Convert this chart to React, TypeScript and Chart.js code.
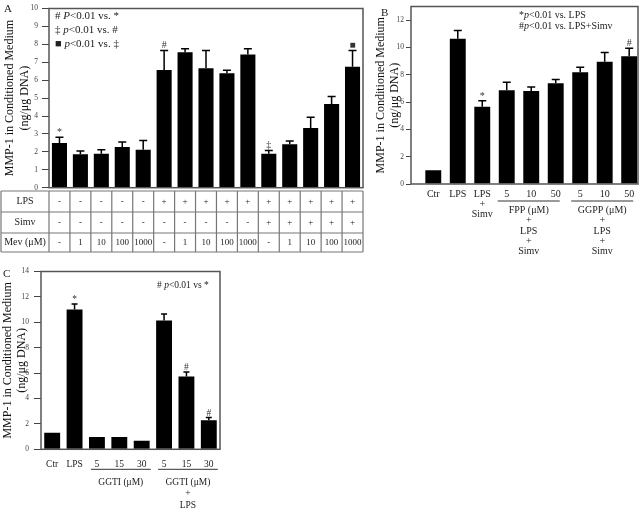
import React, { useEffect, useRef } from "react";
import { Chart, registerables } from "chart.js";

Chart.register(...registerables);

const SERIF = "'Liberation Serif', 'Times New Roman', Times, serif";
const fnt = (size: number, style = "normal") => `${style} ${size}px ${SERIF}`;

// ---------------- Panel A data ----------------
const categoriesA = ["1", "2", "3", "4", "5", "6", "7", "8", "9", "10", "11", "12", "13", "14", "15"];
const valuesA = [2.5, 1.86, 1.9, 2.27, 2.12, 6.57, 7.56, 6.66, 6.38, 7.44, 1.9, 2.42, 3.33, 4.67, 6.75];
const errorsA = [0.32, 0.19, 0.22, 0.28, 0.52, 1.09, 0.19, 1.0, 0.17, 0.31, 0.18, 0.18, 0.6, 0.42, 0.91];
const marksA = ["*", "", "", "", "", "#", "", "", "", "", "‡", "", "", "", "■"];
const tableLabelsA = ["LPS", "Simv", "Mev (μM)"];
const lpsRowA = ["-", "-", "-", "-", "-", "+", "+", "+", "+", "+", "+", "+", "+", "+", "+"];
const simvRowA = ["-", "-", "-", "-", "-", "-", "-", "-", "-", "-", "+", "+", "+", "+", "+"];
const mevRowA = ["-", "1", "10", "100", "1000", "-", "1", "10", "100", "1000", "-", "1", "10", "100", "1000"];
const legendA: [string, boolean][][] = [
  [["# ", false], ["P", true], ["<0.01 vs. *", false]],
  [["‡ ", false], ["p", true], ["<0.01 vs. #", false]],
  [["■ ", false], ["p", true], ["<0.01 vs. ‡", false]],
];

// ---------------- Panel B data ----------------
const categoriesB: (string | string[])[] = ["Ctr", "LPS", ["LPS", "+", "Simv"], "5", "10", "50", "5", "10", "50"];
const valuesB = [1.0, 10.63, 5.65, 6.86, 6.81, 7.37, 8.19, 8.96, 9.35];
const errorsB = [0, 0.62, 0.45, 0.6, 0.29, 0.29, 0.36, 0.68, 0.6];
const marksB = ["", "", "*", "", "", "", "", "", "#"];
const groupsB = [
  { from: 3, to: 5, lines: ["FPP (μM)", "+", "LPS", "+", "Simv"] },
  { from: 6, to: 8, lines: ["GGPP (μM)", "+", "LPS", "+", "Simv"] },
];
const legendB: [string, boolean][][] = [
  [["*", false], ["p", true], ["<0.01 vs. LPS", false]],
  [["#", false], ["p", true], ["<0.01 vs. LPS+Simv", false]],
];

// ---------------- Panel C data ----------------
const categoriesC = ["Ctr", "LPS", "5", "15", "30", "5", "15", "30"];
const valuesC = [1.3, 11.0, 0.96, 0.96, 0.67, 10.15, 5.73, 2.29];
const errorsC = [0, 0.45, 0, 0, 0, 0.5, 0.36, 0.21];
const marksC = ["", "*", "", "", "", "", "#", "#"];
const groupsC = [
  { from: 2, to: 4, lines: ["GGTI (μM)"] },
  { from: 5, to: 7, lines: ["GGTI (μM)", "+", "LPS"] },
];
const legendC: [string, boolean][][] = [[["# ", false], ["p", true], ["<0.01 vs *", false]]];

const yTitle = ["MMP-1 in Conditioned Medium", "(ng/μg DNA)"];

// ---------------- helpers ----------------
function drawRich(ctx: CanvasRenderingContext2D, segs: [string, boolean][], x: number, y: number, size: number) {
  let cx = x;
  ctx.textAlign = "left";
  ctx.textBaseline = "middle";
  ctx.fillStyle = "#222";
  for (const [t, it] of segs) {
    ctx.font = fnt(size, it ? "italic" : "normal");
    ctx.fillText(t, cx, y);
    cx += ctx.measureText(t).width;
  }
}

function drawErrors(chart: any, errors: number[], marks: string[], cap: number, markSize: number) {
  const ctx: CanvasRenderingContext2D = chart.ctx;
  const ys = chart.scales.y;
  const meta = chart.getDatasetMeta(0);
  const raw = chart.data.datasets[0].data as any[];
  ctx.save();
  ctx.strokeStyle = "#000";
  ctx.lineWidth = 1.5;
  meta.data.forEach((el: any, i: number) => {
    const v = typeof raw[i] === "number" ? raw[i] : raw[i].y;
    const x = el.x;
    const top = ys.getPixelForValue(v + errors[i]);
    if (errors[i] > 0) {
      ctx.beginPath();
      ctx.moveTo(x, el.y);
      ctx.lineTo(x, top);
      ctx.moveTo(x - cap / 2, top);
      ctx.lineTo(x + cap / 2, top);
      ctx.stroke();
    }
    if (marks[i]) {
      ctx.font = fnt(markSize);
      ctx.fillStyle = "#333";
      ctx.textAlign = "center";
      ctx.textBaseline = "alphabetic";
      ctx.fillText(marks[i], x, top - 2);
    }
  });
  ctx.restore();
}

function drawFrame(chart: any) {
  const ctx: CanvasRenderingContext2D = chart.ctx;
  const ca = chart.chartArea;
  ctx.save();
  ctx.strokeStyle = "#555";
  ctx.lineWidth = 1.5;
  ctx.strokeRect(ca.left, ca.top, ca.right - ca.left, ca.bottom - ca.top);
  ctx.restore();
}

function drawGroups(
  chart: any,
  groups: { from: number; to: number; lines: string[] }[],
  lineY: number,
  textY: number,
  gap: number,
  size: number,
  extL: number,
  extR: number
) {
  const ctx: CanvasRenderingContext2D = chart.ctx;
  const xs = chart.scales.x;
  ctx.save();
  for (const g of groups) {
    const x0 = xs.getPixelForValue(g.from) - extL;
    const x1 = xs.getPixelForValue(g.to) + extR;
    ctx.strokeStyle = "#333";
    ctx.lineWidth = 1;
    ctx.beginPath();
    ctx.moveTo(x0, lineY);
    ctx.lineTo(x1, lineY);
    ctx.stroke();
    ctx.fillStyle = "#222";
    ctx.font = fnt(size);
    ctx.textAlign = "center";
    ctx.textBaseline = "middle";
    g.lines.forEach((t, k) => ctx.fillText(t, (x0 + x1) / 2, textY + k * gap));
  }
  ctx.restore();
}

function yAxis(max: number, step: number, width: number, titlePad: number, tickLen: number, tickPad: number) {
  return {
    min: 0,
    max,
    afterFit: (s: any) => {
      s.width = width;
    },
    afterBuildTicks: (s: any) => {
      s.ticks = s.ticks.filter((t: any) => Math.abs(t.value / step - Math.round(t.value / step)) < 1e-6);
    },
    ticks: { stepSize: step, includeBounds: false, font: { family: SERIF, size: 7.5 }, color: "#444", padding: tickPad },
    grid: { display: true, drawOnChartArea: false, drawTicks: true, tickLength: tickLen, color: "#444", lineWidth: 1 },
    border: { display: false },
    title: {
      display: true,
      text: yTitle,
      color: "#111",
      font: { family: SERIF, size: 12, lineHeight: 1.2 },
      padding: { top: titlePad, bottom: 0 },
    },
  };
}

const baseOpts = {
  animation: false as const,
  responsive: false,
  maintainAspectRatio: false,
  devicePixelRatio: 1,
  events: [] as any[],
};

function makeA(canvas: HTMLCanvasElement) {
  return new Chart(canvas, {
    type: "bar",
    data: {
      labels: categoriesA,
      datasets: [{ data: valuesA, backgroundColor: "#000", borderWidth: 0, barPercentage: 0.72, categoryPercentage: 1 }],
    },
    options: {
      ...baseOpts,
      layout: { padding: { top: 6, right: 2, bottom: 74.3, left: 0 } },
      plugins: { legend: { display: false }, tooltip: { enabled: false } },
      scales: {
        x: { display: false },
        y: yAxis(10, 1, 49, 3, 7, 4) as any,
      },
    },
    plugins: [
      {
        id: "panelA",
        afterDatasetsDraw(chart: any) {
          drawErrors(chart, errorsA, marksA, 8, 10);
        },
        afterDraw(chart: any) {
          drawFrame(chart);
          const ctx: CanvasRenderingContext2D = chart.ctx;
          ctx.save();
          legendA.forEach((segs, k) => drawRich(ctx, segs, 55, 16 + k * 14, 11));
          ctx.font = fnt(11);
          ctx.fillStyle = "#222";
          ctx.textAlign = "left";
          ctx.textBaseline = "middle";
          ctx.fillText("A", 4, 9);
          // table
          const xs = chart.scales.x;
          const ca = chart.chartArea;
          const n = categoriesA.length;
          const bounds: number[] = [ca.left];
          for (let i = 0; i < n - 1; i++) bounds.push((xs.getPixelForValue(i) + xs.getPixelForValue(i + 1)) / 2);
          bounds.push(ca.right);
          const rowsY = [191, 212, 233, 252];
          ctx.strokeStyle = "#777";
          ctx.lineWidth = 1.2;
          ctx.beginPath();
          rowsY.forEach((y) => {
            ctx.moveTo(1, y);
            ctx.lineTo(ca.right, y);
          });
          ctx.moveTo(1, rowsY[0]);
          ctx.lineTo(1, rowsY[3]);
          bounds.forEach((bx) => {
            ctx.moveTo(bx, rowsY[0]);
            ctx.lineTo(bx, rowsY[3]);
          });
          ctx.stroke();
          ctx.fillStyle = "#222";
          ctx.textAlign = "center";
          const rows = [lpsRowA, simvRowA, mevRowA];
          rows.forEach((row, r) => {
            const cy = (rowsY[r] + rowsY[r + 1]) / 2;
            ctx.font = fnt(10);
            ctx.fillText(tableLabelsA[r], (1 + ca.left) / 2, cy);
            ctx.font = fnt(9);
            row.forEach((t, i) => ctx.fillText(t, (bounds[i] + bounds[i + 1]) / 2, cy));
          });
          ctx.restore();
        },
      },
    ],
  } as any);
}

function makeB(canvas: HTMLCanvasElement) {
  return new Chart(canvas, {
    type: "bar",
    data: {
      datasets: [
        {
          data: valuesB.map((v, i) => ({ x: i, y: v })),
          backgroundColor: "#000",
          borderWidth: 0,
          barPercentage: 0.65,
          categoryPercentage: 1,
        },
      ],
    },
    options: {
      ...baseOpts,
      layout: { padding: { top: 5, right: 2, bottom: 0, left: 0 } },
      plugins: { legend: { display: false }, tooltip: { enabled: false } },
      scales: {
        x: {
          type: "linear",
          offset: false,
          min: -0.91,
          max: 8.36,
          afterFit: (s: any) => {
            s.height = 78;
          },
          afterBuildTicks: (s: any) => {
            s.ticks = categoriesB.map((_, i) => ({ value: i }));
          },
          grid: { display: false, offset: false, drawTicks: false, tickLength: 0 },
          border: { display: false },
          ticks: {
            stepSize: 1,
            callback: (v: any) => categoriesB[Math.round(v)],
            font: { family: SERIF, size: 10, lineHeight: 1 },
            color: "#222",
            padding: 5,
            maxRotation: 0,
            autoSkip: false,
          },
        },
        y: yAxis(13, 2, 46, 8.5, 5, 2) as any,
      },
    },
    plugins: [
      {
        id: "panelB",
        afterDatasetsDraw(chart: any) {
          drawErrors(chart, errorsB, marksB, 8, 10);
        },
        afterDraw(chart: any) {
          drawFrame(chart);
          const ctx: CanvasRenderingContext2D = chart.ctx;
          ctx.save();
          legendB.forEach((segs, k) => drawRich(ctx, segs, 154, 15 + k * 11.7, 10));
          ctx.font = fnt(11);
          ctx.fillStyle = "#222";
          ctx.textAlign = "left";
          ctx.textBaseline = "middle";
          ctx.fillText("B", 16, 13);
          ctx.restore();
          drawGroups(chart, groupsB, 201, 210.5, 10.3, 10, 9, 4);
        },
      },
    ],
  } as any);
}

function makeC(canvas: HTMLCanvasElement) {
  return new Chart(canvas, {
    type: "bar",
    data: {
      labels: categoriesC,
      datasets: [{ data: valuesC, backgroundColor: "#000", borderWidth: 0, barPercentage: 0.71, categoryPercentage: 1 }],
    },
    options: {
      ...baseOpts,
      layout: { padding: { top: 8, right: 12, bottom: 0, left: 0 } },
      plugins: { legend: { display: false }, tooltip: { enabled: false } },
      scales: {
        x: {
          afterFit: (s: any) => {
            s.height = 62.7;
          },
          grid: { display: false, drawTicks: false, tickLength: 0 },
          border: { display: false },
          ticks: { font: { family: SERIF, size: 9.5 }, color: "#222", padding: 9, maxRotation: 0, autoSkip: false },
        },
        y: yAxis(14, 2, 41, 0.5, 7, 5) as any,
      },
    },
    plugins: [
      {
        id: "panelC",
        afterDatasetsDraw(chart: any) {
          drawErrors(chart, errorsC, marksC, 6, 9.5);
        },
        afterDraw(chart: any) {
          drawFrame(chart);
          const ctx: CanvasRenderingContext2D = chart.ctx;
          ctx.save();
          legendC.forEach((segs, k) => drawRich(ctx, segs, 157, 23 + k * 12, 9.5));
          ctx.font = fnt(11);
          ctx.fillStyle = "#222";
          ctx.textAlign = "left";
          ctx.textBaseline = "middle";
          ctx.fillText("C", 3, 12);
          ctx.restore();
          drawGroups(chart, groupsC, 207.3, 220.7, 11.2, 9.5, 6, 9);
        },
      },
    ],
  } as any);
}

export default function App() {
  const refA = useRef<HTMLCanvasElement>(null);
  const refB = useRef<HTMLCanvasElement>(null);
  const refC = useRef<HTMLCanvasElement>(null);

  useEffect(() => {
    const charts = [makeA(refA.current!), makeB(refB.current!), makeC(refC.current!)];
    return () => charts.forEach((c) => c.destroy());
  }, []);

  return (
    <div style={{ position: "absolute", left: 0, top: 0, width: 640, height: 512, background: "#fff", overflow: "hidden" }}>
      <canvas ref={refA} width={365} height={262} style={{ position: "absolute", left: 0, top: 0, width: 365, height: 262 }} />
      <canvas ref={refB} width={275} height={262} style={{ position: "absolute", left: 365, top: 0, width: 275, height: 262 }} />
      <canvas ref={refC} width={232} height={250} style={{ position: "absolute", left: 0, top: 262, width: 232, height: 250 }} />
    </div>
  );
}
